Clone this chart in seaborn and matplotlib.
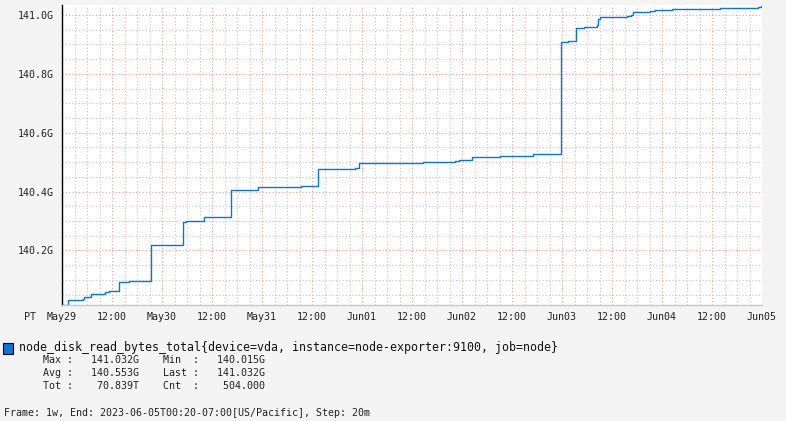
import matplotlib
matplotlib.use("Agg")
import matplotlib.pyplot as plt
import matplotlib.dates as mdates
from matplotlib.patches import Rectangle
from matplotlib.ticker import MultipleLocator, FuncFormatter
import numpy as np
import pandas as pd
import seaborn as sns

# step change times (20m resolution) and the counter value in G after each change
step_times = [
    "2023-05-29 00:00", "2023-05-29 01:20", "2023-05-29 05:00", "2023-05-29 05:20",
    "2023-05-29 07:00", "2023-05-29 10:20", "2023-05-29 11:20", "2023-05-29 13:40",
    "2023-05-29 16:00", "2023-05-29 21:20", "2023-05-30 05:00", "2023-05-30 05:40",
    "2023-05-30 10:00", "2023-05-30 16:40", "2023-05-30 23:00", "2023-05-31 09:20",
    "2023-05-31 13:20", "2023-05-31 22:20", "2023-05-31 23:20", "2023-06-01 14:40",
    "2023-06-01 22:20", "2023-06-01 23:20", "2023-06-02 02:20", "2023-06-02 09:00",
    "2023-06-02 17:00", "2023-06-02 23:40", "2023-06-03 01:20", "2023-06-03 03:20",
    "2023-06-03 05:20", "2023-06-03 08:20", "2023-06-03 08:40", "2023-06-03 09:00",
    "2023-06-03 15:40", "2023-06-03 16:40", "2023-06-03 17:00", "2023-06-03 21:00",
    "2023-06-03 22:20", "2023-06-04 02:20", "2023-06-04 14:00", "2023-06-04 23:00",
    "2023-06-04 23:40", "2023-06-05 00:00",
]
step_values = [
    140.015, 140.030, 140.034, 140.040,
    140.053, 140.057, 140.063, 140.094,
    140.097, 140.217, 140.297, 140.301,
    140.313, 140.404, 140.416, 140.420,
    140.477, 140.480, 140.497, 140.501,
    140.504, 140.507, 140.518, 140.521,
    140.528, 140.907, 140.911, 140.955,
    140.958, 140.965, 140.985, 140.992,
    140.996, 140.999, 141.009, 141.013,
    141.016, 141.019, 141.023, 141.026,
    141.032, 141.032,
]

series_name = "node_disk_read_bytes_total{device=vda, instance=node-exporter:9100, job=node}"
stat_rows = [
    ("Max", "141.032G", "Min", "140.015G"),
    ("Avg", "140.553G", "Last", "141.032G"),
    ("Tot", "70.839T", "Cnt", "504.000"),
]
footer = "Frame: 1w, End: 2023-06-05T00:20-07:00[US/Pacific], Step: 20m"

W, H = 786, 421
BG = "#f4f4f4"
LINE = "#0a74d8"
MONO = ["DejaVu Sans Mono"]

sns.set_style("white")
plt.rcParams["font.family"] = MONO
plt.rcParams["font.size"] = 7.2

df = pd.DataFrame({"time": pd.to_datetime(step_times), "value": step_values})

fig = plt.figure(figsize=(W / 100, H / 100), dpi=100, facecolor=BG)
ax = fig.add_axes([62 / W, 1 - 305 / H, 700 / W, 300 / H])
ax.set_facecolor("white")

sns.lineplot(data=df, x="time", y="value", drawstyle="steps-post",
             color=LINE, linewidth=1.0, ax=ax)

ax.set_xlim(pd.Timestamp("2023-05-29 00:00"), pd.Timestamp("2023-06-05 00:00"))
ax.set_ylim(140.0145, 141.034)

ax.xaxis.set_major_locator(mdates.HourLocator(byhour=[0, 12]))
ax.xaxis.set_minor_locator(mdates.HourLocator(byhour=range(0, 24, 3)))


def fmt_time(x, pos):
    d = mdates.num2date(x)
    return d.strftime("%b%d") if d.hour == 0 else d.strftime("%H:%M")


ax.xaxis.set_major_formatter(FuncFormatter(fmt_time))
ax.yaxis.set_major_locator(MultipleLocator(0.2))
ax.yaxis.set_minor_locator(MultipleLocator(0.05))
ax.yaxis.set_major_formatter(FuncFormatter(lambda v, p: f"{v:.1f}G"))

ax.grid(which="minor", color="#c2c2c2", linestyle=(0, (1, 2)), linewidth=0.8)
ax.grid(which="major", color="#ee9898", linestyle=(0, (1, 2)), linewidth=0.8)
ax.set_axisbelow(True)

ax.tick_params(which="major", direction="out", length=2.9, width=0.8, color="black",
               labelsize=7.2, labelcolor="#222222", pad=2.4)
ax.tick_params(axis="y", which="major", pad=3.2)
ax.tick_params(which="minor", length=0)
ax.set_xlabel("")
ax.set_ylabel("")

for side in ["top", "right"]:
    ax.spines[side].set_visible(False)
ax.spines["left"].set_color("black")
ax.spines["left"].set_linewidth(1.0)
ax.spines["bottom"].set_color("#c8c8c8")
ax.spines["bottom"].set_linewidth(1.0)


def fx(px):
    return px / W


def fy(py):
    return 1 - py / H


fig.text(fx(30), fy(317), "PT", ha="center", va="center", fontsize=7.2, color="#222222")

# legend entry
fig.patches.append(Rectangle((fx(3), fy(354)), 10 / W, 11 / H, transform=fig.transFigure,
                             facecolor=LINE, edgecolor="black", linewidth=0.8))
fig.text(fx(19), fy(347), series_name, ha="left", va="center", fontsize=8.4, color="#111111")

for i, (n1, v1, n2, v2) in enumerate(stat_rows):
    line = f"{n1:<4}:{v1:>11}    {n2:<5}:{v2:>11}"
    fig.text(fx(43), fy(360 + 13 * i), line, ha="left", va="center",
             fontsize=7.2, color="#222222")

fig.text(fx(4), fy(413), footer, ha="left", va="center", fontsize=7.2, color="#222222")

fig.savefig("out.png", dpi=100, facecolor=BG)
